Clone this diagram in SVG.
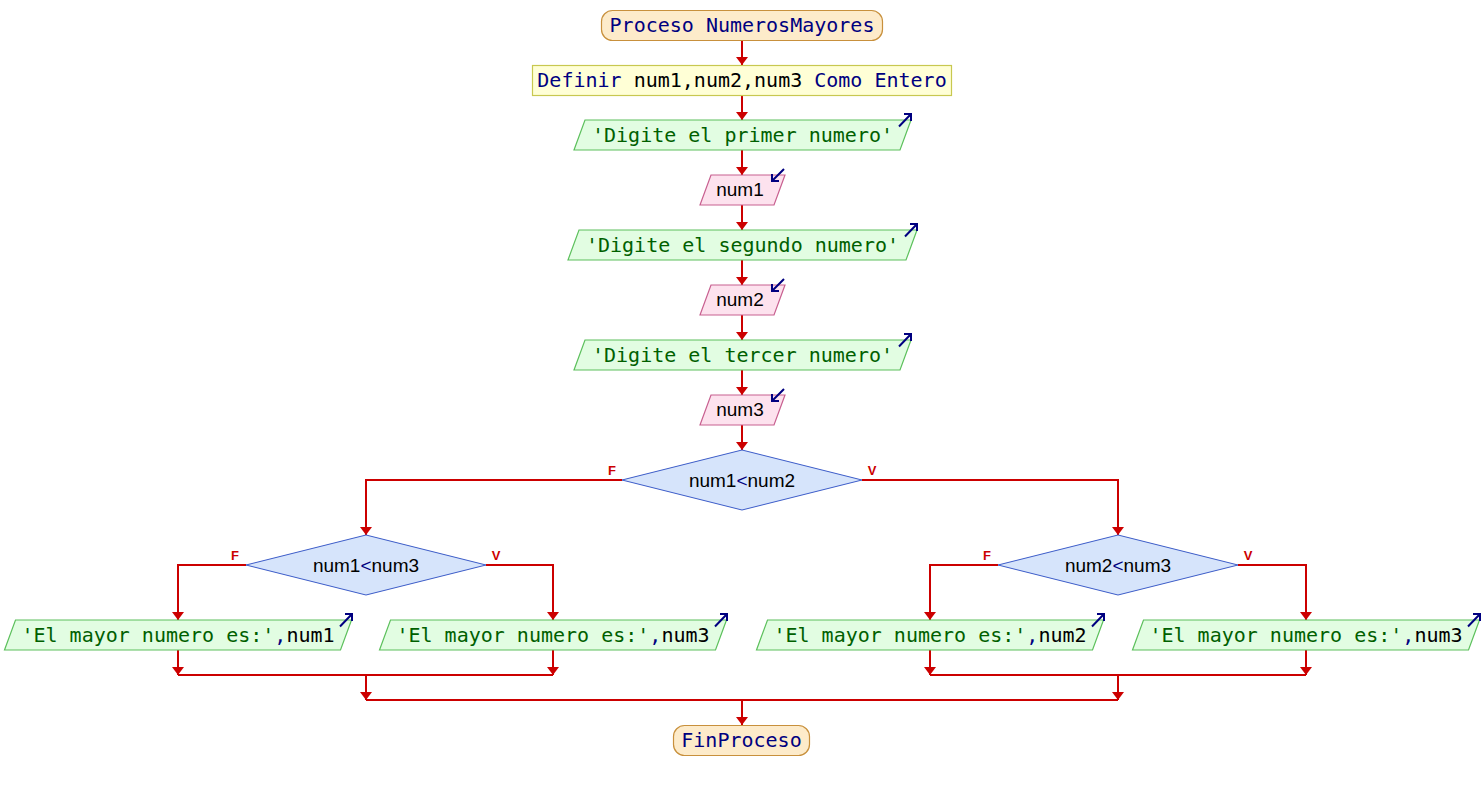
<svg xmlns="http://www.w3.org/2000/svg" width="1484" height="790" viewBox="0 0 1484 790">
<style>
.mono{font-family:"DejaVu Sans Mono","Liberation Mono",monospace;font-size:20px}
.sans{font-family:"Liberation Sans",Arial,sans-serif;font-size:19px}
.kw{fill:#000080}
.id{fill:#000000}
.str{fill:#006000}
.term{fill:#fdebca;stroke:#c8903c;stroke-width:1.2}
.proc{fill:#ffffd6;stroke:#c8c850;stroke-width:1.2}
.out{fill:#e2fde2;stroke:#5cc05c;stroke-width:1.2}
.in{fill:#fde2ee;stroke:#c86090;stroke-width:1.2}
.dec{fill:#d6e4fb;stroke:#3c5cc8;stroke-width:1}
.icon{fill:none;stroke:#000080;stroke-width:2}
.conn{fill:none;stroke:#cc0000;stroke-width:2}
.lbl{font-family:"Liberation Sans",Arial,sans-serif;font-size:13px;font-weight:bold;fill:#cc0000}
</style>
<defs>
<marker id="ah" markerUnits="userSpaceOnUse" markerWidth="10" markerHeight="14" viewBox="-9 -7 10 14" refX="0" refY="0" orient="auto">
<path d="M-8,-6 L0,0 L-8,6 Z" fill="#cc0000"/>
</marker>
</defs>
<g id="connectors">
<path class="conn" marker-end="url(#ah)" d="M742,40 V65"/>
<path class="conn" marker-end="url(#ah)" d="M742,95 V120"/>
<path class="conn" marker-end="url(#ah)" d="M742,150 V175"/>
<path class="conn" marker-end="url(#ah)" d="M742,205 V230"/>
<path class="conn" marker-end="url(#ah)" d="M742,260 V285"/>
<path class="conn" marker-end="url(#ah)" d="M742,315 V340"/>
<path class="conn" marker-end="url(#ah)" d="M742,370 V395"/>
<path class="conn" marker-end="url(#ah)" d="M742,425 V450"/>
<path class="conn" marker-end="url(#ah)" d="M622,480 H366 V535"/>
<path class="conn" marker-end="url(#ah)" d="M862,480 H1118 V535"/>
<path class="conn" marker-end="url(#ah)" d="M246,565 H178 V620"/>
<path class="conn" marker-end="url(#ah)" d="M486,565 H553 V620"/>
<path class="conn" marker-end="url(#ah)" d="M998,565 H930 V620"/>
<path class="conn" marker-end="url(#ah)" d="M1238,565 H1306 V620"/>
<path class="conn" marker-end="url(#ah)" d="M178,650 V675"/>
<path class="conn" marker-end="url(#ah)" d="M553,650 V675"/>
<path class="conn" d="M178,675 H553"/>
<path class="conn" marker-end="url(#ah)" d="M930,650 V675"/>
<path class="conn" marker-end="url(#ah)" d="M1306,650 V675"/>
<path class="conn" d="M930,675 H1306"/>
<path class="conn" marker-end="url(#ah)" d="M366,675 V700"/>
<path class="conn" marker-end="url(#ah)" d="M1118,675 V700"/>
<path class="conn" d="M366,700 H1118"/>
<path class="conn" marker-end="url(#ah)" d="M742,700 V725"/>
<text class="lbl" x="612" y="475" text-anchor="middle">F</text>
<text class="lbl" x="872" y="475" text-anchor="middle">V</text>
<text class="lbl" x="235" y="560" text-anchor="middle">F</text>
<text class="lbl" x="496" y="560" text-anchor="middle">V</text>
<text class="lbl" x="987" y="560" text-anchor="middle">F</text>
<text class="lbl" x="1248" y="560" text-anchor="middle">V</text>
</g>
<g id="start">
<rect class="term" x="601.5" y="10.5" width="281" height="30" rx="11"/>
<text class="mono kw" x="742" y="32" text-anchor="middle">Proceso NumerosMayores</text>
</g>
<g id="define">
<rect class="proc" x="532.5" y="65.5" width="419" height="30"/>
<text class="mono" x="742" y="87" text-anchor="middle"><tspan class="kw">Definir</tspan><tspan class="id"> num1,num2,num3 </tspan><tspan class="kw">Como Entero</tspan></text>
</g>
<g id="out1">
<polygon class="out" points="585,120 911,120 900,150 574,150"/>
<text class="mono str" x="742.5" y="142" text-anchor="middle">'Digite el primer numero'</text>
<path class="icon" d="M899,126.5 L911,114 M904,114 H911 V121"/>
</g>
<g id="in1">
<polygon class="in" points="711,175 785,175 774,205 700,205"/>
<text class="sans id" x="740" y="196" text-anchor="middle">num1</text>
<path class="icon" d="M784,169 L772,181 M772,174 V181 H779"/>
</g>
<g id="out2">
<polygon class="out" points="579,230 917,230 906,260 568,260"/>
<text class="mono str" x="742.5" y="252" text-anchor="middle">'Digite el segundo numero'</text>
<path class="icon" d="M905,236.5 L917,224 M910,224 H917 V231"/>
</g>
<g id="in2">
<polygon class="in" points="711,285 785,285 774,315 700,315"/>
<text class="sans id" x="740" y="306" text-anchor="middle">num2</text>
<path class="icon" d="M784,279 L772,291 M772,284 V291 H779"/>
</g>
<g id="out3">
<polygon class="out" points="585,340 911,340 900,370 574,370"/>
<text class="mono str" x="742.5" y="362" text-anchor="middle">'Digite el tercer numero'</text>
<path class="icon" d="M899,346.5 L911,334 M904,334 H911 V341"/>
</g>
<g id="in3">
<polygon class="in" points="711,395 785,395 774,425 700,425"/>
<text class="sans id" x="740" y="416" text-anchor="middle">num3</text>
<path class="icon" d="M784,389 L772,401 M772,394 V401 H779"/>
</g>
<g id="dec1">
<polygon class="dec" points="742,450 862,480 742,510 622,480"/>
<text class="sans id" x="742" y="487" text-anchor="middle">num1<tspan class="kw">&lt;</tspan>num2</text>
</g>
<g id="dec2">
<polygon class="dec" points="366,535 486,565 366,595 246,565"/>
<text class="sans id" x="366" y="572" text-anchor="middle">num1<tspan class="kw">&lt;</tspan>num3</text>
</g>
<g id="dec3">
<polygon class="dec" points="1118,535 1238,565 1118,595 998,565"/>
<text class="sans id" x="1118" y="572" text-anchor="middle">num2<tspan class="kw">&lt;</tspan>num3</text>
</g>
<g id="out4">
<polygon class="out" points="15.5,620 351.5,620 340.5,650 4.5,650"/>
<text class="mono" x="178" y="642" text-anchor="middle"><tspan class="str">'El mayor numero es:'</tspan><tspan class="kw">,</tspan><tspan class="id">num1</tspan></text>
<path class="icon" d="M340,626.5 L352,614 M345,614 H352 V621"/>
</g>
<g id="out5">
<polygon class="out" points="390.5,620 726.5,620 715.5,650 379.5,650"/>
<text class="mono" x="553" y="642" text-anchor="middle"><tspan class="str">'El mayor numero es:'</tspan><tspan class="kw">,</tspan><tspan class="id">num3</tspan></text>
<path class="icon" d="M715,626.5 L727,614 M720,614 H727 V621"/>
</g>
<g id="out6">
<polygon class="out" points="767.5,620 1103.5,620 1092.5,650 756.5,650"/>
<text class="mono" x="930" y="642" text-anchor="middle"><tspan class="str">'El mayor numero es:'</tspan><tspan class="kw">,</tspan><tspan class="id">num2</tspan></text>
<path class="icon" d="M1092,626.5 L1104,614 M1097,614 H1104 V621"/>
</g>
<g id="out7">
<polygon class="out" points="1143.5,620 1479.5,620 1468.5,650 1132.5,650"/>
<text class="mono" x="1306" y="642" text-anchor="middle"><tspan class="str">'El mayor numero es:'</tspan><tspan class="kw">,</tspan><tspan class="id">num3</tspan></text>
<path class="icon" d="M1468,626.5 L1480,614 M1473,614 H1480 V621"/>
</g>
<g id="end">
<rect class="term" x="673.5" y="725.5" width="136" height="30" rx="11"/>
<text class="mono kw" x="741.5" y="747" text-anchor="middle">FinProceso</text>
</g>
</svg>
